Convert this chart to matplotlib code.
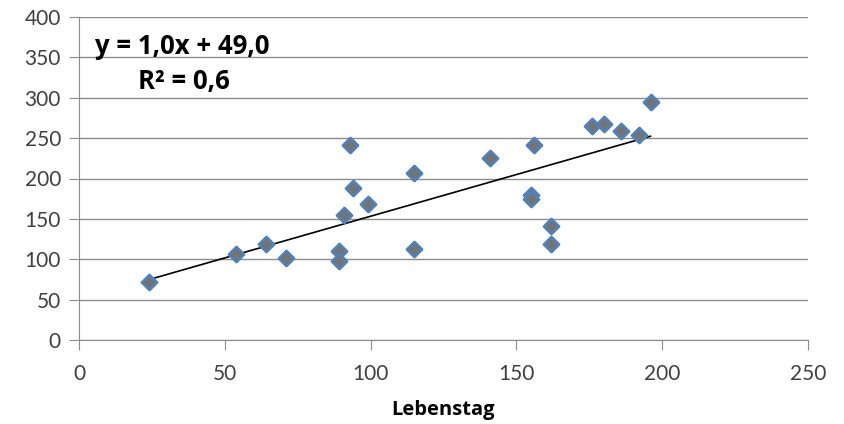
import numpy as np
import matplotlib.pyplot as plt

# Werte
lebenstag = [24, 54, 64, 71, 89, 89, 91, 93, 94, 99, 115, 115, 141,
             155, 155, 156, 162, 162, 176, 180, 186, 192, 196]
werte = [72, 106, 119, 101, 110, 98, 155, 241, 188, 169, 207, 113, 226,
         180, 175, 241, 141, 119, 265, 268, 259, 254, 295]
x_ticks = [0, 50, 100, 150, 200, 250]
y_ticks = [0, 50, 100, 150, 200, 250, 300, 350, 400]

plt.rcParams['font.family'] = ['Lato', 'DejaVu Sans']
fett = ['Open Sans', 'DejaVu Sans']  # Lato hat hier kein Bold

fig = plt.figure(figsize=(8.45, 4.24), dpi=100)
ax = fig.add_axes([79 / 845, 1 - 340 / 424, (808 - 79) / 845, (340 - 17) / 424])

# lineare Trendlinie
m, b = np.polyfit(lebenstag, werte, 1)
xs = np.array([min(lebenstag), max(lebenstag)])
ax.plot(xs, m * xs + b, color='black', linewidth=1.2, zorder=2)

ax.scatter(lebenstag, werte, marker='D', s=60, facecolor='#737373',
           edgecolor='#4f81bd', linewidth=1.9, zorder=3)

ax.set_xlim(0, 250)
ax.set_ylim(0, 400)
ax.set_xticks(x_ticks)
ax.set_yticks(y_ticks)
ax.grid(axis='y', color='#8c8c8c', linewidth=1)
ax.set_axisbelow(True)
for s in ['top', 'right']:
    ax.spines[s].set_visible(False)
for s in ['left', 'bottom']:
    ax.spines[s].set_color('#8c8c8c')
ax.tick_params(axis='both', colors='#8c8c8c', length=7, labelsize=15,
               labelcolor='#404040')
ax.tick_params(axis='x', pad=10)
ax.tick_params(axis='y', pad=6)

ax.set_xlabel('Lebenstag', fontsize=14.5, fontweight='bold', family=fett,
              labelpad=12)

ax.text(95 / 845, 1 - 47 / 424, 'y = 1,0x + 49,0', transform=fig.transFigure,
        fontsize=18.5, fontweight='bold', family=fett, va='center', ha='left')
ax.text(138 / 845, 1 - 82 / 424, 'R² = 0,6', transform=fig.transFigure,
        fontsize=18.5, fontweight='bold', family=fett, va='center', ha='left')

fig.savefig('out.png', dpi=100)
